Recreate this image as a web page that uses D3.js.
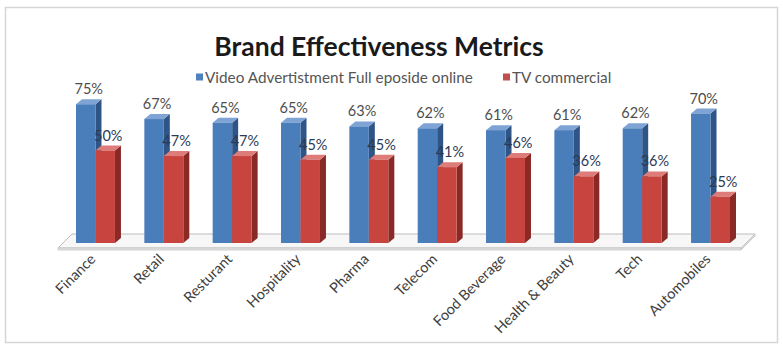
<!DOCTYPE html>
<html>
<head>
<meta charset="utf-8">
<script src="https://cdn.jsdelivr.net/npm/d3@7"></script>
<style>
  html, body { margin: 0; padding: 0; background: #fff; }
  svg { display: block; font-family: Lato, "Open Sans", sans-serif; }
</style>
</head>
<body>
<svg id="chart" width="783" height="349"></svg>
<script>
// Brand effectiveness by industry: online full-episode video ads vs TV commercials
const categories = ["Finance", "Retail", "Resturant", "Hospitality", "Pharma", "Telecom",
  "Food Beverage", "Health & Beauty", "Tech", "Automobiles"];
const seriesNames = ["Video Advertistment Full eposide online", "TV commercial"];
const videoOnline = [75, 67, 65, 65, 63, 62, 61, 61, 62, 70];
const tvCommercial = [50, 47, 47, 45, 45, 41, 46, 36, 36, 25];
const title = "Brand Effectiveness Metrics";

const svg = d3.select("#chart");
const W = 783, H = 349;

// colours per series: front, side, top
const palette = [
  { front: "#4a7ebb", side: "#2f5587", top: "#7ea3d4", key: "#4f81bd" },
  { front: "#c8443f", side: "#8a2a27", top: "#dd7c78", key: "#c0504d" }
];

// chart frame
svg.append("rect")
  .attr("x", 5.5).attr("y", 7.5)
  .attr("width", W - 11).attr("height", H - 14)
  .attr("fill", "#fff").attr("stroke", "#d6d6d6").attr("stroke-width", 1.5);

// scales
const x = d3.scaleBand().domain(categories).range([76, 730]).paddingInner(0.43).paddingOuter(0);
const xs = d3.scaleBand().domain(d3.range(seriesNames.length)).range([0, x.bandwidth()]).padding(0);
const y = d3.scaleLinear().domain([0, 100]).range([243, 58]);

const depthX = 6, depthY = 5;

// floor slab
const fl = { x0: 58, x1: 741, yFront: 248, shift: 14, thick: 2 };
svg.append("path")
  .attr("d", `M${fl.x0},${fl.yFront} L${fl.x1},${fl.yFront} L${fl.x1 + fl.shift},${fl.yFront - fl.shift}
              L${fl.x0 + fl.shift},${fl.yFront - fl.shift} Z`)
  .attr("fill", "#f7f7f7").attr("stroke", "#bdbdbd").attr("stroke-width", 1);
svg.append("path")
  .attr("d", `M${fl.x0},${fl.yFront} L${fl.x1},${fl.yFront} L${fl.x1},${fl.yFront + fl.thick}
              L${fl.x0},${fl.yFront + fl.thick} Z`)
  .attr("fill", "#e4e4e4").attr("stroke", "#c4c4c4").attr("stroke-width", 0.8);
svg.append("path")
  .attr("d", `M${fl.x1},${fl.yFront} L${fl.x1 + fl.shift},${fl.yFront - fl.shift}
              L${fl.x1 + fl.shift},${fl.yFront - fl.shift + fl.thick} L${fl.x1},${fl.yFront + fl.thick} Z`)
  .attr("fill", "#dcdcdc").attr("stroke", "#c4c4c4").attr("stroke-width", 0.8);

// build bars data
const bars = [];
categories.forEach((c, i) => {
  [videoOnline[i], tvCommercial[i]].forEach((v, s) => {
    bars.push({ cat: c, s, v });
  });
});

const barG = svg.append("g");
const drawBar = (g, d) => {
  const col = palette[d.s];
  const x0 = x(d.cat) + xs(d.s), w = xs.bandwidth();
  const yt = y(d.v), yb = y(0);
  // side face
  g.append("path")
    .attr("d", `M${x0 + w},${yt} L${x0 + w + depthX},${yt - depthY} L${x0 + w + depthX},${yb - depthY} L${x0 + w},${yb} Z`)
    .attr("fill", col.side);
  // top face
  g.append("path")
    .attr("d", `M${x0},${yt} L${x0 + w},${yt} L${x0 + w + depthX},${yt - depthY} L${x0 + depthX},${yt - depthY} Z`)
    .attr("fill", col.top);
  // front face
  g.append("rect")
    .attr("x", x0).attr("y", yt).attr("width", w).attr("height", yb - yt)
    .attr("fill", col.front);
};
// draw the video series first so the TV column sits in front of its side face
bars.filter(d => d.s === 0).forEach(d => drawBar(barG, d));
bars.filter(d => d.s === 1).forEach(d => drawBar(barG, d));

// value labels
svg.append("g").selectAll("text")
  .data(bars)
  .join("text")
  .attr("x", d => x(d.cat) + xs(d.s) + xs.bandwidth() / 2 + depthX / 2)
  .attr("y", d => y(d.v) - 10)
  .attr("text-anchor", "middle")
  .attr("font-size", 14.5)
  .attr("fill", d => d.s === 0 ? "#4d4d4d" : "#2b3a55")
  .text(d => d.v + "%");

// category labels
svg.append("g").selectAll("text")
  .data(categories)
  .join("text")
  .attr("transform", d => `translate(${x(d) + x.bandwidth() / 2 + 1},${260}) rotate(-45)`)
  .attr("text-anchor", "end")
  .attr("font-size", 14.5)
  .attr("fill", "#404040")
  .text(d => d);

// title
svg.append("text")
  .attr("x", 379).attr("y", 56)
  .attr("text-anchor", "middle")
  .attr("font-size", 26.5).attr("font-weight", "bold")
  .attr("fill", "#1a1a1a")
  .text(title);

// legend
const legendX = [196, 503];
const lg = svg.append("g").selectAll("g")
  .data(seriesNames)
  .join("g")
  .attr("transform", (d, i) => `translate(${legendX[i]},78)`);
lg.append("rect")
  .attr("x", 0).attr("y", -4.5).attr("width", 7).attr("height", 7)
  .attr("fill", (d, i) => palette[i].key);
lg.append("text")
  .attr("x", 9).attr("y", 5)
  .attr("font-size", 15.3)
  .attr("fill", "#555")
  .text(d => d);
</script>
</body>
</html>
